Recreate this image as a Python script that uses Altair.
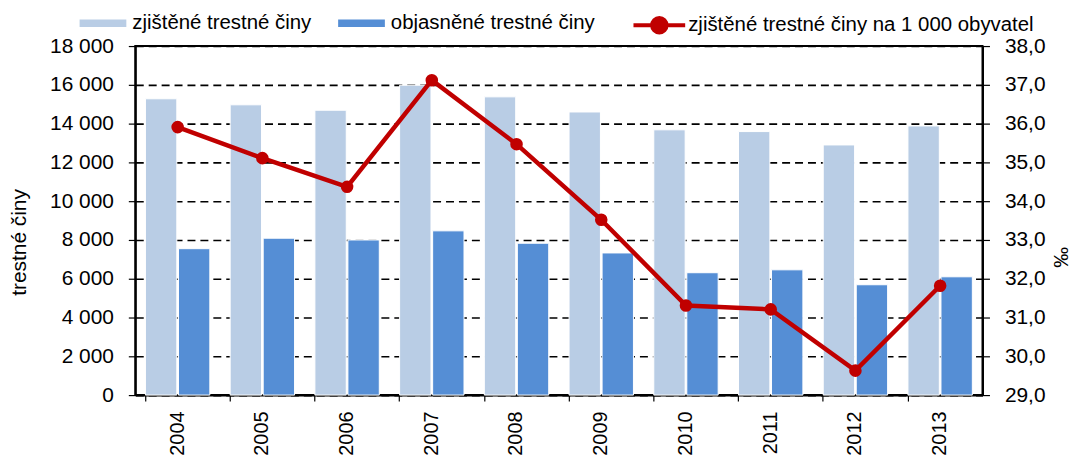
import altair as alt
import pandas as pd

years = ["2004", "2005", "2006", "2007", "2008", "2009", "2010", "2011", "2012", "2013"]
zjistene = [15280, 14970, 14690, 15980, 15380, 14600, 13680, 13590, 12900, 13880]
objasnene = [7550, 8090, 8000, 8470, 7830, 7330, 6310, 6460, 5690, 6100]
na_1000 = [35.91, 35.11, 34.37, 37.12, 35.47, 33.52, 31.31, 31.21, 29.63, 31.82]

S1 = "zjištěné trestné činy"
S2 = "objasněné trestné činy"
S3 = "zjištěné trestné činy na 1 000 obyvatel"

left_ticks = [0, 2000, 4000, 6000, 8000, 10000, 12000, 14000, 16000, 18000]
right_ticks = [29, 30, 31, 32, 33, 34, 35, 36, 37, 38]

LIGHT = "#b9cde5"
DARK = "#558ed5"
RED = "#c00000"
FONT = "Liberation Sans"

bars_df = pd.DataFrame({
    "rok": years * 2,
    "serie": [S1] * len(years) + [S2] * len(years),
    "hodnota": zjistene + objasnene,
})
line_df = pd.DataFrame({"rok": years, "serie": [S3] * len(years), "hodnota": na_1000})

xscale = alt.Scale(paddingInner=0.24, paddingOuter=0.12)
rscale = alt.Scale(domain=[29, 38], nice=False)

x_axis = alt.Axis(labelAngle=-90, bandPosition=0, ticks=True, tickSize=6,
                  tickColor="black", tickWidth=1.2, labelPadding=10,
                  domain=True, domainColor="black", domainWidth=2, grid=False, title=None)

right_axis = alt.Axis(orient="right", values=right_ticks,
                      labelExpr="replace(format(datum.value, '.1f'), '.', ',')",
                      grid=False, tickSize=7, tickColor="black", tickWidth=1.2, labelPadding=15,
                      labelFontSize=21,
                      domainColor="black", domainWidth=2,
                      title="‰", titleX=79, titleY=212, titleBaseline="middle", titleAngle=270)

bars = alt.Chart(bars_df).mark_bar(stroke="white", strokeWidth=1).encode(
    x=alt.X("rok:N", sort=years, scale=xscale, title=None, axis=x_axis),
    xOffset=alt.XOffset("serie:N", sort=[S1, S2], scale=alt.Scale(paddingInner=0.05, paddingOuter=0)),
    y=alt.Y("hodnota:Q", scale=alt.Scale(domain=[0, 18000], nice=False),
            axis=alt.Axis(values=left_ticks,
                          labelExpr="replace(format(datum.value, ','), ',', ' ')",
                          grid=True, gridDash=[8, 5], gridColor="black", gridWidth=1.6, gridOpacity=1,
                          tickSize=7, tickColor="black", tickWidth=1.2, labelPadding=15,
                          labelFontSize=21,
                          domainColor="black", domainWidth=2,
                          title="trestné činy", titleX=-116, titleY=197, titleBaseline="middle",
                          titleAngle=270, titleFontSize=21)),
    fill=alt.Fill("serie:N", scale=alt.Scale(domain=[S1, S2], range=[LIGHT, DARK]),
                  legend=alt.Legend(orient="none", legendX=-56, legendY=-46.5, direction="horizontal",
                                    title=None, symbolType="M-1,-0.16H1V0.16H-1Z", symbolSize=2209,
                                    symbolStrokeWidth=0, labelFontSize=20.5, labelFont=FONT,
                                    labelOffset=6, columnPadding=26, padding=0, labelLimit=600,
                                    labelColor="black")),
)

line = alt.Chart(line_df).mark_line(strokeWidth=4.5).encode(
    x=alt.X("rok:N", sort=years, scale=xscale, title=None, axis=x_axis),
    y=alt.Y("hodnota:Q", scale=rscale, axis=right_axis),
    stroke=alt.Stroke("serie:N", scale=alt.Scale(domain=[S3], range=[RED]),
                      legend=alt.Legend(orient="none", legendX=499, legendY=-49, title=None,
                                        symbolType="M-1,0H1M0.28,0A0.28,0.28,0,1,1,-0.28,0A0.28,0.28,0,1,1,0.28,0Z",
                                        symbolSize=2704, symbolStrokeWidth=4, symbolFillColor=RED,
                                        symbolStrokeColor=RED, labelFontSize=20.5, labelFont=FONT,
                                        labelOffset=1, padding=0, labelLimit=600, labelColor="black")),
)

points = alt.Chart(line_df).mark_circle(size=160, opacity=1, color=RED).encode(
    x=alt.X("rok:N", sort=years, scale=xscale, title=None, axis=x_axis),
    y=alt.Y("hodnota:Q", scale=rscale, axis=right_axis),
)

chart = alt.layer(bars, alt.layer(line, points)).resolve_scale(
    y="independent"
).properties(
    width=852, height=351,
    autosize=alt.AutoSizeParams(type="none"),
    padding={"left": 128, "top": 37, "right": 90, "bottom": 62},
).configure_view(
    stroke="black", strokeWidth=2
).configure_axis(
    labelFont=FONT, labelFontSize=20, labelColor="black",
    titleFont=FONT, titleFontSize=21, titleColor="black", titleFontWeight="normal",
).configure_legend(
    labelFont=FONT, labelFontSize=20.5
)

chart.save("out.html", embed_options={"renderer": "svg", "actions": False})
